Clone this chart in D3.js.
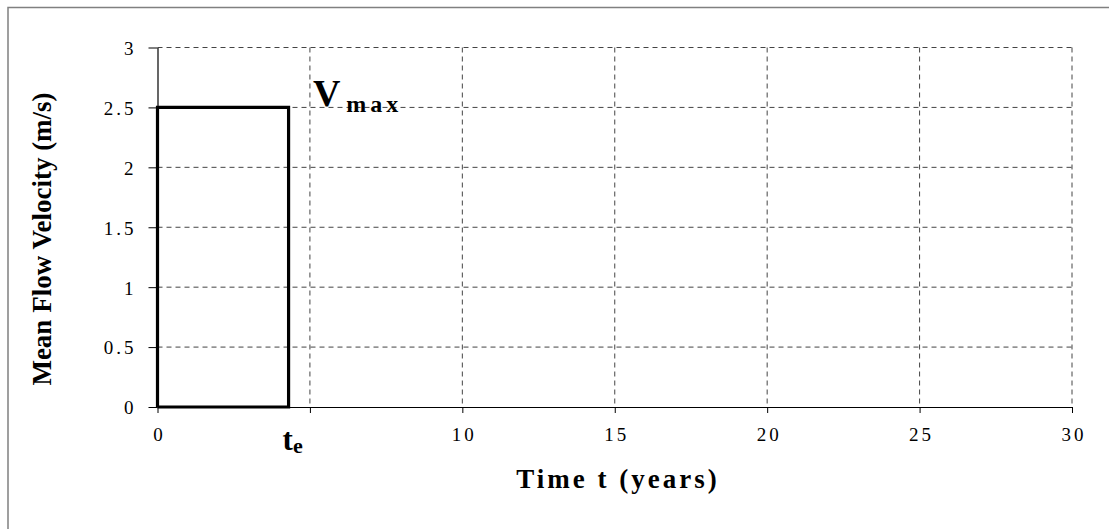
<!DOCTYPE html>
<html>
<head>
<meta charset="utf-8">
<script src="https://cdn.jsdelivr.net/npm/d3@7"></script>
<style>
  body { margin: 0; background: #fff; }
  svg text { font-family: "Liberation Serif", "Times New Roman", serif; fill: #000; }
</style>
</head>
<body>
<div id="chart-area"></div>
<script>
// velocity step: flow at Vmax until t_e, then zero
var times = [0, 0, 4.3, 4.3, 0];
var velocity = [0, 2.5, 2.5, 0, 0];
var xTicks = [0, 5, 10, 15, 20, 25, 30];
var yTicks = [0, 0.5, 1, 1.5, 2, 2.5, 3];
var teTime = 4.3;
var vMax = 2.5;

var W = 1109, H = 529;
var margin = { left: 157.5, right: 37, top: 47.5, bottom: 122 },
    width = W - margin.left - margin.right,
    height = H - margin.top - margin.bottom;

var svg = d3.select("#chart-area").append("svg")
    .attr("width", W)
    .attr("height", H);

// outer frame (only top and left visible)
svg.append("rect")
    .attr("x", 8).attr("y", 7.5)
    .attr("width", W + 20).attr("height", H + 20)
    .attr("fill", "none")
    .attr("stroke", "#808080")
    .attr("stroke-width", 1.5);

var g = svg.append("g")
    .attr("transform", "translate(" + margin.left + "," + margin.top + ")");

var x = d3.scaleLinear().domain([0, 30]).range([0, width]);
var y = d3.scaleLinear().domain([0, 3]).range([height, 0]);

// grid
g.selectAll(".vgrid").data(xTicks.filter(function(d) { return d > 0; }))
  .enter().append("line")
    .attr("x1", function(d) { return x(d); })
    .attr("x2", function(d) { return x(d); })
    .attr("y1", 0).attr("y2", height)
    .attr("stroke", "#444")
    .attr("stroke-width", 1)
    .attr("stroke-dasharray", "5,4");

g.selectAll(".hgrid").data(yTicks.filter(function(d) { return d > 0; }))
  .enter().append("line")
    .attr("x1", 0).attr("x2", width)
    .attr("y1", function(d) { return y(d); })
    .attr("y2", function(d) { return y(d); })
    .attr("stroke", "#444")
    .attr("stroke-width", 1)
    .attr("stroke-dasharray", "5,4");

// axes
var xAxis = g.append("g")
    .attr("transform", "translate(0," + height + ")")
    .call(d3.axisBottom(x).tickValues(xTicks).tickSize(6).tickSizeOuter(0)
      .tickFormat(function(d) { return d === 5 ? "" : d; }));
var yAxis = g.append("g")
    .call(d3.axisLeft(y).tickValues(yTicks).tickSize(9).tickSizeOuter(0)
      .tickFormat(function(d) { return d; }));

[xAxis, yAxis].forEach(function(a) {
  a.select(".domain").attr("stroke", "#000").attr("stroke-width", 1.2);
  a.selectAll(".tick line").attr("stroke", "#000");
  a.selectAll("text")
    .style("font-family", "Liberation Serif")
    .style("font-size", "19px")
    .style("letter-spacing", "3px")
    .attr("fill", "#000");
});
xAxis.selectAll("text").attr("y", 21).attr("dy", "0.71em").attr("dx", "1.5px");
yAxis.selectAll("text").attr("x", -24).attr("dy", "0.36em").attr("dx", "3px");

// the step line
var line = d3.line()
    .x(function(d, i) { return x(times[i]); })
    .y(function(d, i) { return y(velocity[i]); });

g.append("path")
    .attr("d", line(times))
    .attr("fill", "none")
    .attr("stroke", "#000")
    .attr("stroke-width", 3.2)
    .attr("stroke-linejoin", "miter");

// V_max label
var vLabel = g.append("text")
    .attr("x", x(5) + 3)
    .attr("y", y(vMax) - 1)
    .style("font-weight", "bold");
vLabel.append("tspan").style("font-size", "38px").text("V");
vLabel.append("tspan").attr("dx", 6).attr("dy", 6)
    .style("font-size", "24px").style("letter-spacing", "4px").text("max");

// t_e label
var tLabel = g.append("text")
    .attr("x", x(teTime) - 6)
    .attr("y", height + 43)
    .style("font-weight", "bold");
tLabel.append("tspan").style("font-size", "31px").text("t");
tLabel.append("tspan").attr("dy", 3).style("font-size", "22px").text("e");

// axis titles
svg.append("text")
    .attr("x", 618)
    .attr("y", 488)
    .attr("text-anchor", "middle")
    .style("font-weight", "bold")
    .style("font-size", "27px")
    .style("letter-spacing", "3px")
    .text("Time t (years)");

svg.append("text")
    .attr("transform", "translate(51,239) rotate(-90)")
    .attr("text-anchor", "middle")
    .style("font-weight", "bold")
    .style("font-size", "27px")
    .text("Mean Flow Velocity (m/s)");
</script>
</body>
</html>
